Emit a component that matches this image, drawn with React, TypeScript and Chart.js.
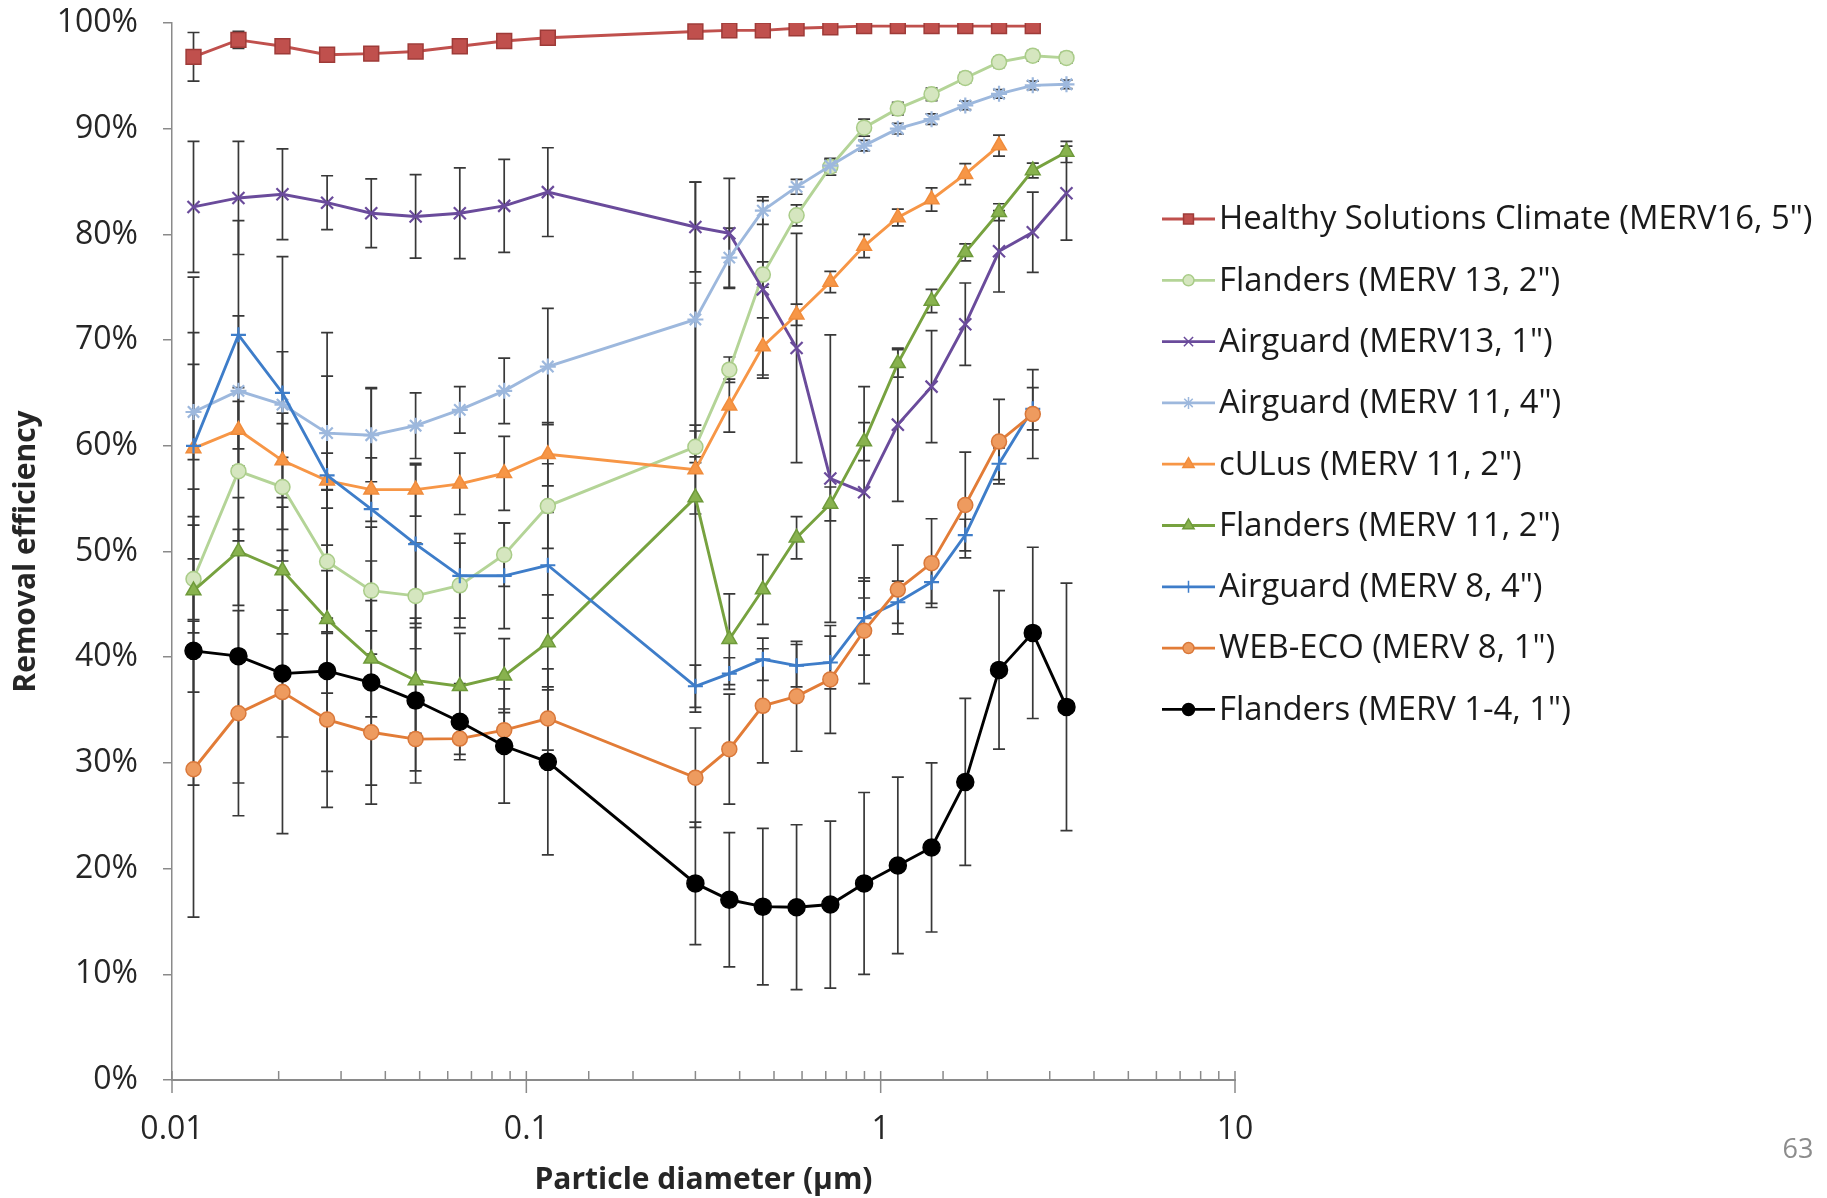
import React, { useEffect, useRef } from "react";
import { Chart, registerables } from "chart.js";
import { drawPoint } from "chart.js/helpers";

Chart.register(...registerables);

// ---------- DATA ----------
const diameters = [
  0.0115, 0.0154, 0.0205, 0.0274, 0.0365, 0.0487, 0.0649, 0.0866, 0.115,
  0.3, 0.374, 0.465, 0.579, 0.721, 0.898, 1.118, 1.392, 1.733, 2.158, 2.687, 3.345,
];

const xMajorTicks = [0.01, 0.1, 1, 10];
const yTicks = [0, 10, 20, 30, 40, 50, 60, 70, 80, 90, 100];

const seriesLabels = [
  'Healthy Solutions Climate (MERV16, 5")',
  'Flanders (MERV 13, 2")',
  'Airguard (MERV13, 1")',
  'Airguard (MERV 11, 4")',
  'cULus (MERV 11, 2")',
  'Flanders (MERV 11, 2")',
  'Airguard (MERV 8, 4")',
  'WEB-ECO (MERV 8, 1")',
  'Flanders (MERV 1-4, 1")',
];

const healthyValues = [96.8, 98.4, 97.8, 97.0, 97.1, 97.3, 97.8, 98.3, 98.6, 99.2, 99.3, 99.3, 99.5, 99.6, 99.7, 99.7, 99.7, 99.7, 99.7, 99.7, null];
const healthyErrors = [2.3, 0.8, null, null, null, null, null, null, null, null, null, null, null, null, null, null, null, null, null, null, null];

const flanders13Values = [47.4, 57.6, 56.1, 49.05, 46.3, 45.8, 46.8, 49.7, 54.3, 59.9, 67.2, 76.2, 81.8, 86.4, 90.1, 91.9, 93.25, 94.8, 96.3, 96.9, 96.7];
const flanders13Errors = [5.1, 6.6, 7, 6.8, 6, 5, 4, 3, 4, 1.5, 1.2, 1.2, 1.0, 0.8, 0.8, 0.6, 0.6, 0.5, 0.5, 0.5, 0.5];

const airguard13Values = [82.6, 83.45, 83.8, 83.0, 82.0, 81.7, 82.0, 82.7, 84.0, 80.7, 80.1, 74.8, 69.25, 56.9, 55.6, 62.0, 65.6, 71.5, 78.4, 80.2, 83.9];
const airguard13Errors = [6.2, 5.35, 4.3, 2.55, 3.25, 3.95, 4.3, 4.4, 4.2, 4.25, 5.2, 8.4, 10.85, 13.6, 10, 7.25, 5.3, 3.9, 3.85, 3.8, 4.45];

const airguard11Values = [63.2, 65.2, 63.9, 61.2, 61.0, 61.9, 63.4, 65.2, 67.5, 71.95, 77.8, 82.25, 84.5, 86.5, 88.4, 90.0, 90.9, 92.2, 93.3, 94.1, 94.2];
const airguard11Errors = [4.5, 7.1, 5, 5.4, 4.4, 3.1, 2.2, 3.1, 5.5, 13, 2.8, 1.3, 0.7, 0.6, 0.5, 0.5, 0.5, 0.4, 0.4, 0.4, 0.4];

const culusValues = [59.75, 61.5, 58.6, 56.7, 55.85, 55.85, 56.4, 57.4, 59.2, 57.75, 63.8, 69.4, 72.4, 75.5, 78.9, 81.6, 83.3, 85.7, 88.4, null, null];
const culusErrors = [16.2, 4, 3.5, 2.6, 3, 2.5, 2.9, 3.5, 3, 4.2, 2.5, 2.7, 1.0, 1.0, 1.1, 0.8, 1.1, 1.0, 1.0, null, null];

const flanders11Values = [46.3, 50.0, 48.2, 43.6, 39.85, 37.8, 37.25, 38.25, 41.4, 55.1, 41.7, 46.4, 51.3, 54.5, 60.4, 67.8, 73.7, 78.3, 82.1, 86.05, 87.8];
const flanders11Errors = [9.6, 5.1, 6, 7, 5.5, 5, 5, 3.5, 4.5, 20.3, 4.3, 3.3, 2.0, 1.6, 1.8, 1.3, 1.1, 0.8, 0.8, 0.7, 1.0];

const airguard8Values = [60.0, 70.5, 65.0, 57.2, 54.0, 50.7, 47.7, 47.7, 48.7, 37.25, 38.45, 39.8, 39.2, 39.5, 43.7, 45.2, 47.1, 51.55, 58.3, 63.5, null];
const airguard8Errors = [10.7, 10.8, 12.9, 13.5, 11.5, 7.5, 4, 5, 5, 2.0, 1.5, 2.0, 2.0, 2.5, 3.5, 2.0, 2.0, 1.5, 1.5, 2.0, null];

const webEcoValues = [29.4, 34.7, 36.7, 34.1, 32.9, 32.25, 32.3, 33.1, 34.2, 28.6, 31.3, 35.4, 36.3, 37.9, 42.5, 46.4, 48.9, 54.4, 60.4, 63.0, null];
const webEcoErrors = [14, 9.7, 13.4, 8.3, 5, 3, 1.5, 2, 3, 4.7, 5.2, 5.4, 5.2, 5.1, 5.0, 4.2, 4.2, 5.0, 4.0, 4.2, null];

const flanders14Values = [40.6, 40.1, 38.45, 38.7, 37.6, 35.9, 33.9, 31.6, 30.1, 18.6, 17.05, 16.4, 16.35, 16.6, 18.6, 20.3, 22.0, 28.2, 38.8, 42.3, 35.3];
const flanders14Errors = [12.7, 12, 6, 9.5, 11.5, 7.8, 3.6, 5.4, 8.8, 5.8, 6.35, 7.4, 7.8, 7.9, 8.6, 8.35, 8.0, 7.9, 7.5, 8.1, 11.7];

const seriesValues = [healthyValues, flanders13Values, airguard13Values, airguard11Values, culusValues, flanders11Values, airguard8Values, webEcoValues, flanders14Values];
const seriesErrors = [healthyErrors, flanders13Errors, airguard13Errors, airguard11Errors, culusErrors, flanders11Errors, airguard8Errors, webEcoErrors, flanders14Errors];

// ---------- STYLES ----------
const styles = [
  { line: "#C0504D", fill: "#C0504D", border: "#9E3B38", marker: "rect", r: 10.5, lr: 7 },
  { line: "#B4D497", fill: "#D5E6BF", border: "#A9CC88", marker: "circle", r: 7.5, lr: 5.5 },
  { line: "#6A4B9B", fill: "#6A4B9B", border: "#6A4B9B", marker: "crossRot", r: 8.5, lr: 6.5 },
  { line: "#9DB8DD", fill: "#9DB8DD", border: "#9DB8DD", marker: "star", r: 8, lr: 6 },
  { line: "#F79646", fill: "#F79646", border: "#F08C3C", marker: "triangle", r: 8.5, lr: 6.5 },
  { line: "#77A23F", fill: "#88B24E", border: "#6E9A3A", marker: "triangle", r: 8.5, lr: 6.5 },
  { line: "#3E7DC9", fill: "#3E7DC9", border: "#3E7DC9", marker: "cross", r: 7.5, lr: 6 },
  { line: "#E27C37", fill: "#EE9B5F", border: "#D9783A", marker: "circle", r: 7.5, lr: 5.5 },
  { line: "#000000", fill: "#000000", border: "#000000", marker: "circle", r: 8.5, lr: 6 },
];

const FONT = "'Open Sans', 'DejaVu Sans', sans-serif";

const LEGEND = { lineX0: 1162, lineX1: 1215, textX: 1219, top: 219, step: 61.3, font: 32.8 };

const errorBarPlugin = {
  id: "errorBars",
  beforeDatasetsDraw(chart: any) {
    const ctx = chart.ctx;
    const xs = chart.scales.x;
    const ys = chart.scales.y;
    ctx.save();
    ctx.strokeStyle = "#383838";
    ctx.lineWidth = 1.7;
    chart.data.datasets.forEach((ds: any) => {
      ds.data.forEach((p: any) => {
        if (p.e == null) return;
        const x = xs.getPixelForValue(p.x);
        const y1 = ys.getPixelForValue(p.y + p.e);
        const y2 = ys.getPixelForValue(p.y - p.e);
        ctx.beginPath();
        ctx.moveTo(x, y1);
        ctx.lineTo(x, y2);
        ctx.moveTo(x - 6, y1);
        ctx.lineTo(x + 6, y1);
        ctx.moveTo(x - 6, y2);
        ctx.lineTo(x + 6, y2);
        ctx.stroke();
      });
    });
    ctx.restore();
  },
};

const isMajor = (v: number) => {
  const l = Math.log10(v);
  return Math.abs(l - Math.round(l)) < 1e-9;
};

const axisTickPlugin = {
  id: "axisTicks",
  afterDraw(chart: any) {
    const ctx = chart.ctx;
    const xs = chart.scales.x;
    const y0 = chart.chartArea.bottom;
    ctx.save();
    ctx.strokeStyle = "#8a8a8a";
    ctx.lineWidth = 1.5;
    xs.ticks.forEach((t: any) => {
      const x = xs.getPixelForValue(t.value);
      const maj = xMajorTicks.some((m) => Math.abs(m - t.value) / m < 1e-6);
      ctx.beginPath();
      ctx.moveTo(x, y0 - 9);
      ctx.lineTo(x, maj ? y0 + 13 : y0);
      ctx.stroke();
    });
    ctx.restore();
  },
};

const legendPlugin = {
  id: "customLegend",
  afterDraw(chart: any) {
    const ctx = chart.ctx;
    ctx.save();
    chart.data.datasets.forEach((ds: any, i: number) => {
      const st = styles[i];
      const y = LEGEND.top + i * LEGEND.step;
      ctx.strokeStyle = st.line;
      ctx.lineWidth = 2.8;
      ctx.beginPath();
      ctx.moveTo(LEGEND.lineX0, y);
      ctx.lineTo(LEGEND.lineX1, y);
      ctx.stroke();
      ctx.fillStyle = st.fill;
      ctx.strokeStyle = st.border;
      ctx.lineWidth = 1.5;
      drawPoint(ctx, { pointStyle: st.marker, radius: st.lr, rotation: 0, borderWidth: 1.5 }, (LEGEND.lineX0 + LEGEND.lineX1) / 2, y);
      ctx.fillStyle = "#1a1a1a";
      ctx.font = `${LEGEND.font}px ${FONT}`;
      ctx.textAlign = "left";
      ctx.textBaseline = "middle";
      ctx.fillText(ds.label, LEGEND.textX, y + 1);
    });
    ctx.restore();
  },
};

export default function App() {
  const canvasRef = useRef<HTMLCanvasElement | null>(null);

  useEffect(() => {
    document.body.style.margin = "0";
    const canvas = canvasRef.current;
    if (!canvas) return;

    const datasets = seriesLabels.map((label, i) => {
      const st = styles[i];
      const data = diameters
        .map((d, j) => ({ x: d, y: seriesValues[i][j], e: seriesErrors[i][j] }))
        .filter((p) => p.y != null);
      return {
        label,
        data,
        borderColor: st.line,
        backgroundColor: st.fill,
        pointBackgroundColor: st.fill,
        pointBorderColor: st.border,
        pointStyle: st.marker,
        pointRadius: st.r,
        pointBorderWidth: st.marker === "crossRot" || st.marker === "cross" || st.marker === "star" ? 2.2 : 1.5,
        borderWidth: 2.9,
        tension: 0,
        fill: false,
        order: seriesLabels.length - i,
      };
    });

    const chart = new Chart(canvas, {
      type: "line",
      data: { datasets },
      options: {
        animation: false,
        responsive: false,
        devicePixelRatio: 1,
        layout: { autoPadding: false, padding: { left: 0, top: 23, right: 592, bottom: 0 } },
        plugins: { legend: { display: false }, tooltip: { enabled: false } },
        scales: {
          x: {
            type: "logarithmic",
            min: 0.01,
            max: 10,
            border: { display: true, color: "#8a8a8a", width: 2 },
            grid: { display: false, drawTicks: false },
            ticks: {
              autoSkip: false,
              maxRotation: 0,
              padding: 31,
              color: "#262626",
              font: { family: FONT, size: 32 },
              callback: (v: any) => (isMajor(Number(v)) ? String(Number(v)) : ""),
            },
            title: {
              display: true,
              text: "Particle diameter (µm)",
              color: "#262626",
              font: { family: FONT, size: 30, weight: "bold" },
              padding: { top: 0, bottom: 0 },
            },
            afterFit: (s: any) => {
              s.height = 118;
              s.paddingLeft = 0;
              s.paddingRight = 0;
            },
          },
          y: {
            type: "linear",
            min: 0,
            max: 100,
            afterBuildTicks: (s: any) => {
              s.ticks = yTicks.map((v) => ({ value: v }));
            },
            border: { display: true, color: "#8a8a8a", width: 1.5 },
            grid: { display: true, drawOnChartArea: false, drawTicks: true, tickLength: 9, color: "#8a8a8a", lineWidth: 1.5 },
            ticks: {
              padding: 25,
              color: "#262626",
              font: { family: FONT, size: 32 },
              callback: (v: any) => `${v}%`,
            },
            title: {
              display: true,
              text: "Removal efficiency",
              color: "#262626",
              font: { family: FONT, size: 30, weight: "bold" },
              padding: { top: 8, bottom: 0 },
            },
            afterFit: (s: any) => {
              s.width = 172;
              s.paddingTop = 0;
              s.paddingBottom = 0;
            },
          },
        },
      },
      plugins: [errorBarPlugin, axisTickPlugin, legendPlugin],
    } as any);

    return () => chart.destroy();
  }, []);

  return (
    <div style={{ position: "relative", width: 1827, height: 1198, background: "#fff" }}>
      <canvas ref={canvasRef} width={1827} height={1198} style={{ display: "block" }} />
      <div
        style={{
          position: "absolute",
          left: 1779,
          top: 1131,
          width: 38,
          textAlign: "center",
          fontFamily: FONT,
          fontSize: 27,
          color: "#8c8c8c",
          lineHeight: "34px",
        }}
      >
        63
      </div>
    </div>
  );
}
